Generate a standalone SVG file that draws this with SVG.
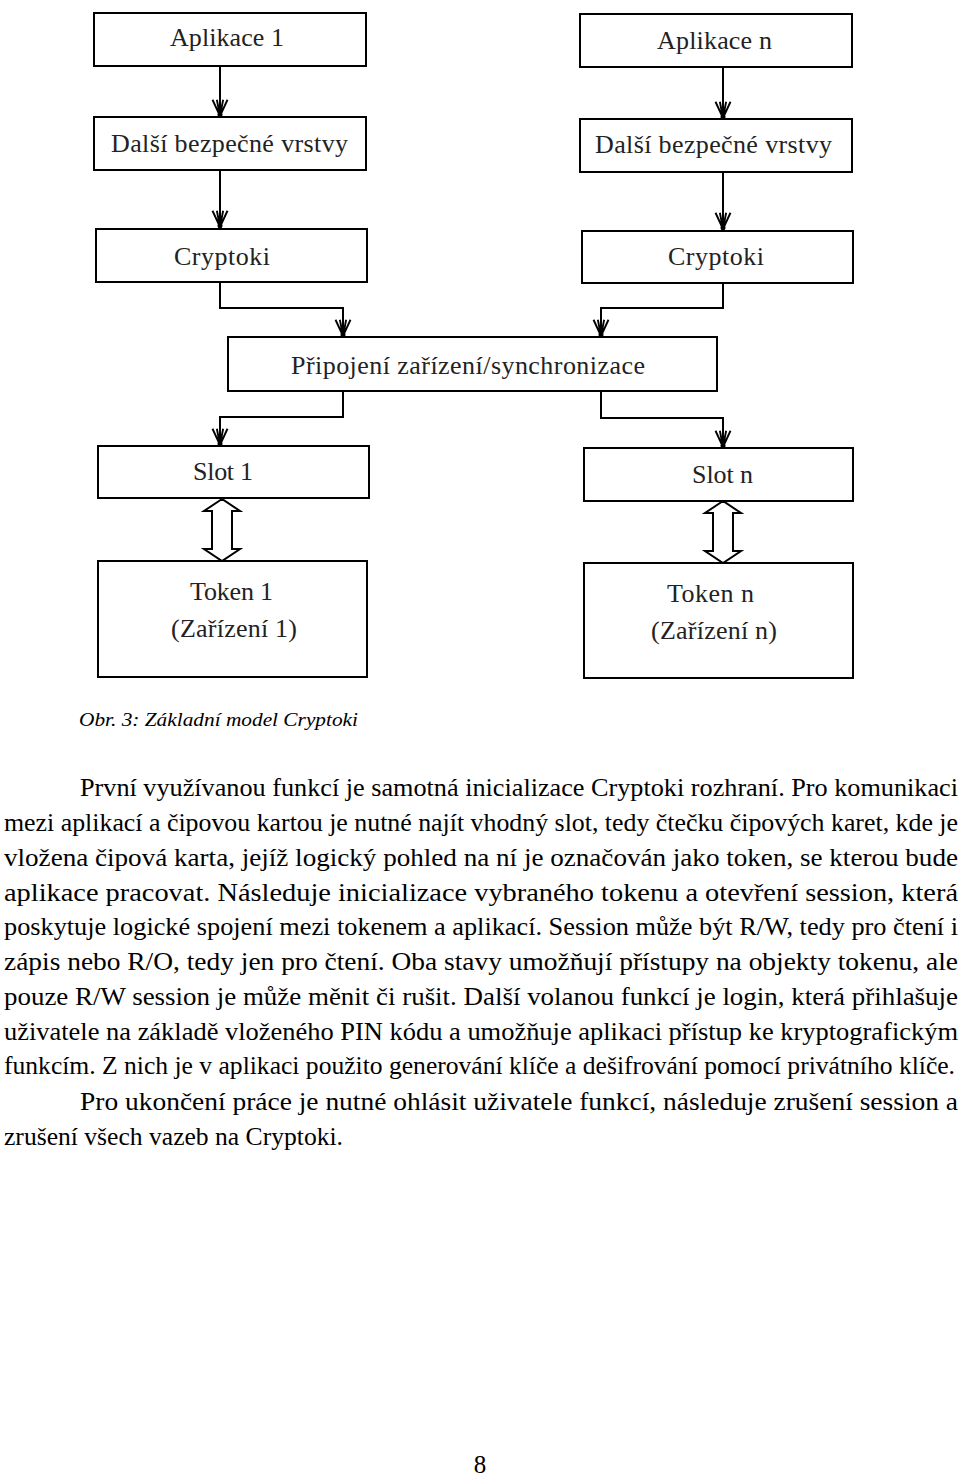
<svg xmlns="http://www.w3.org/2000/svg" width="960" height="1480" viewBox="0 0 960 1480">
<style>
.box{fill:#fff;stroke:#000;stroke-width:2}
.lbl{font-family:"Liberation Serif","Times New Roman",serif;font-size:26px;fill:#222}
.con{fill:none;stroke:#000;stroke-width:2}
.dbl{fill:#fff;stroke:#000;stroke-width:2;stroke-linejoin:miter}
.body{font-family:"Liberation Serif","Times New Roman",serif;font-size:25px;fill:#000}
.cap{font-family:"Liberation Serif","Times New Roman",serif;font-size:19px;font-style:italic;fill:#000}
</style>
<defs>
<marker id="arr" markerUnits="userSpaceOnUse" markerWidth="20" markerHeight="20" refX="0" refY="0" viewBox="-14 -8 16 16" orient="auto" overflow="visible">
<path d="M-13,-6 L0,0 L-13,6 M-13,-2.5 L0,0 L-13,2.5" fill="none" stroke="#000" stroke-width="1.5"/>
<circle cx="-1" cy="0" r="2" fill="#000"/>
</marker>
</defs>
<rect width="960" height="1480" fill="#fff"/>
<g id="connectors">
<path class="con" d="M220,66 V116" marker-end="url(#arr)"/>
<path class="con" d="M220,170 V227" marker-end="url(#arr)"/>
<path class="con" d="M220,282 V308 H343 V336" marker-end="url(#arr)"/>
<path class="con" d="M343,391 V417 H220 V445" marker-end="url(#arr)"/>
<path class="con" d="M723,67 V118" marker-end="url(#arr)"/>
<path class="con" d="M723,172 V229" marker-end="url(#arr)"/>
<path class="con" d="M723,283 V308 H601 V336" marker-end="url(#arr)"/>
<path class="con" d="M601,391 V418 H723 V447" marker-end="url(#arr)"/>
<path class="dbl" d="M222,499 L204,511 L212,511 L212,549 L204,549 L222,561 L240,549 L232,549 L232,511 L240,511 Z"/>
<path class="dbl" d="M723,501 L705,513 L713,513 L713,551 L705,551 L723,563 L741,551 L733,551 L733,513 L741,513 Z"/>
</g>
<g id="aplikace1"><rect class="box" x="94" y="13" width="272" height="53"/><text class="lbl" x="170" y="46" textLength="114" lengthAdjust="spacing">Aplikace 1</text></g>
<g id="dalsi1"><rect class="box" x="94" y="117" width="272" height="53"/><text class="lbl" x="111" y="152" textLength="237" lengthAdjust="spacing">Další bezpečné vrstvy</text></g>
<g id="cryptoki1"><rect class="box" x="96" y="229" width="271" height="53"/><text class="lbl" x="174" y="265" textLength="96" lengthAdjust="spacing">Cryptoki</text></g>
<g id="pripojeni"><rect class="box" x="228" y="337" width="489" height="54"/><text class="lbl" x="291" y="374" textLength="354" lengthAdjust="spacing">Připojení zařízení/synchronizace</text></g>
<g id="slot1"><rect class="box" x="98" y="446" width="271" height="52"/><text class="lbl" x="193" y="480" textLength="60" lengthAdjust="spacing">Slot 1</text></g>
<g id="token1"><rect class="box" x="98" y="561" width="269" height="116"/><text class="lbl" x="190" y="600" textLength="83" lengthAdjust="spacing">Token 1</text><text class="lbl" x="171" y="637" textLength="126" lengthAdjust="spacing">(Zařízení 1)</text></g>
<g id="aplikacen"><rect class="box" x="580" y="14" width="272" height="53"/><text class="lbl" x="657" y="49" textLength="115" lengthAdjust="spacing">Aplikace n</text></g>
<g id="dalsin"><rect class="box" x="580" y="119" width="272" height="53"/><text class="lbl" x="595" y="153" textLength="237" lengthAdjust="spacing">Další bezpečné vrstvy</text></g>
<g id="cryptokin"><rect class="box" x="582" y="231" width="271" height="52"/><text class="lbl" x="668" y="265" textLength="96" lengthAdjust="spacing">Cryptoki</text></g>
<g id="slotn"><rect class="box" x="584" y="448" width="269" height="53"/><text class="lbl" x="692" y="483" textLength="61" lengthAdjust="spacing">Slot n</text></g>
<g id="tokenn"><rect class="box" x="584" y="563" width="269" height="115"/><text class="lbl" x="667" y="602" textLength="87" lengthAdjust="spacing">Token n</text><text class="lbl" x="651" y="639" textLength="126" lengthAdjust="spacing">(Zařízení n)</text></g>
<g id="caption"><text class="cap" x="79" y="726" textLength="279" lengthAdjust="spacingAndGlyphs">Obr. 3: Základní model Cryptoki</text></g>
<g id="text">
<text class="body" x="80" y="796" textLength="878" lengthAdjust="spacingAndGlyphs">První využívanou funkcí je samotná inicializace Cryptoki rozhraní. Pro komunikaci</text>
<text class="body" x="4" y="831" textLength="954" lengthAdjust="spacingAndGlyphs">mezi aplikací a čipovou kartou je nutné najít vhodný slot, tedy čtečku čipových karet, kde je</text>
<text class="body" x="4" y="866" textLength="954" lengthAdjust="spacingAndGlyphs">vložena čipová karta, jejíž logický pohled na ní je označován jako token, se kterou bude</text>
<text class="body" x="4" y="901" textLength="954" lengthAdjust="spacingAndGlyphs">aplikace pracovat. Následuje inicializace vybraného tokenu a otevření session, která</text>
<text class="body" x="4" y="935" textLength="954" lengthAdjust="spacingAndGlyphs">poskytuje logické spojení mezi tokenem a aplikací. Session může být R/W, tedy pro čtení i</text>
<text class="body" x="4" y="970" textLength="954" lengthAdjust="spacingAndGlyphs">zápis nebo R/O, tedy jen pro čtení. Oba stavy umožňují přístupy na objekty tokenu, ale</text>
<text class="body" x="4" y="1005" textLength="954" lengthAdjust="spacingAndGlyphs">pouze R/W session je může měnit či rušit. Další volanou funkcí je login, která přihlašuje</text>
<text class="body" x="4" y="1040" textLength="954" lengthAdjust="spacingAndGlyphs">uživatele na základě vloženého PIN kódu a umožňuje aplikaci přístup ke kryptografickým</text>
<text class="body" x="4" y="1074" textLength="951" lengthAdjust="spacingAndGlyphs">funkcím. Z nich je v aplikaci použito generování klíče a dešifrování pomocí privátního klíče.</text>
<text class="body" x="80" y="1110" textLength="878" lengthAdjust="spacingAndGlyphs">Pro ukončení práce je nutné ohlásit uživatele funkcí, následuje zrušení session a</text>
<text class="body" x="4" y="1145" textLength="339" lengthAdjust="spacingAndGlyphs">zrušení všech vazeb na Cryptoki.</text>
</g>
<g id="page"><text class="body" x="480" y="1473" text-anchor="middle" font-size="22">8</text></g>
</svg>
